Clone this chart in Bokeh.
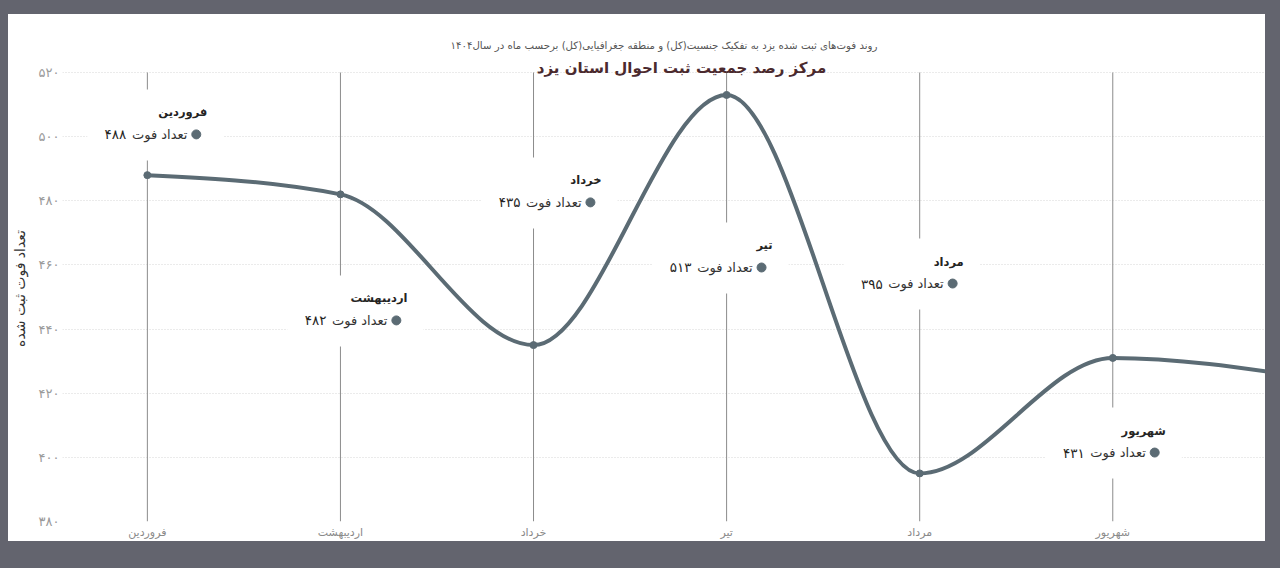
from bokeh.plotting import figure
from bokeh.models import Range1d, FixedTicker, Label, ColumnDataSource, Title
from bokeh.core.properties import value
from bokeh.embed import file_html
from bokeh.resources import INLINE

# ---------------- data ----------------
months = ["فروردین", "اردیبهشت", "خرداد", "تیر", "مرداد", "شهریور", "مهر"]
deaths = [488, 482, 435, 513, 395, 431, 425]
value_labels = ["۴۸۸", "۴۸۲", "۴۳۵", "۵۱۳", "۳۹۵", "۴۳۱"]
y_ticks = [380, 400, 420, 440, 460, 480, 500, 520]
y_tick_labels = ["۳۸۰", "۴۰۰", "۴۲۰", "۴۴۰", "۴۶۰", "۴۸۰", "۵۰۰", "۵۲۰"]
row_text = "تعداد فوت"
subtitle = "روند فوت\u200cهای ثبت شده یزد به تفکیک جنسیت(کل) و منطقه جغرافیایی(کل) برحسب ماه در سال۱۴۰۴"
main_title = "مرکز رصد جمعیت ثبت احوال استان یزد"
y_title = "تعداد فوت ثبت شده"

# ---------------- layout / style constants ----------------
label_row_y = [500.7, 442.7, 479.5, 459.2, 454.2, 401.5]   # data-label row position
label_dx = [49, 56, 57, 35, 33, 42]                        # px offset of label dot
LINE_COLOR = "#5b6b74"
FONT = "DejaVu Sans"
X_START, X_END = -0.4395, 5.791
FRAME_W = 1205
PX_X = (X_END - X_START) / FRAME_W
PX_Y = (y_ticks[-1] - y_ticks[0]) / 449.0
Y_END = y_ticks[-1] + 17 * PX_Y          # frame extends 17px above the top grid line
FRAME_TOP = 41

n = 6
xs = list(range(len(deaths)))

p = figure(width=1257, height=527,
           x_range=Range1d(X_START, X_END), y_range=Range1d(y_ticks[0], Y_END),
           output_backend="svg", toolbar_location=None,
           min_border_left=52, min_border_right=0, min_border_top=FRAME_TOP, min_border_bottom=20)
p.outline_line_color = None
p.background_fill_color = "white"
p.border_fill_color = "white"
p.styles = {"position": "relative", "top": "14px", "left": "8px",
            "box-shadow": "0 0 0 40px #63646e"}

p.title = Title(text=subtitle, align="center", text_font=FONT, text_font_size="10.2px",
                text_font_style="normal", text_color="#555555", standoff=10)

# axes
p.xaxis.ticker = FixedTicker(ticks=list(range(n)))
p.xaxis.major_label_overrides = {i: months[i] for i in range(n)}
p.yaxis.ticker = FixedTicker(ticks=y_ticks)
p.yaxis.major_label_overrides = dict(zip(y_ticks, y_tick_labels))
for ax in (p.xaxis, p.yaxis):
    ax.axis_line_color = None
    ax.major_tick_line_color = None
    ax.minor_tick_line_color = None
    ax.major_tick_out = 0
    ax.major_tick_in = 0
    ax.minor_tick_out = 0
    ax.major_label_text_font = FONT
p.xaxis.major_label_text_font_size = "11px"
p.xaxis.major_label_text_color = "#8a8a8a"
p.xaxis.major_label_standoff = 4
p.yaxis.major_label_text_font_size = "13px"
p.yaxis.major_label_text_color = "#9a9a9a"
p.yaxis.major_label_standoff = 3
p.yaxis.axis_label = y_title
p.yaxis.axis_label_text_font = FONT
p.yaxis.axis_label_text_font_style = "normal"
p.yaxis.axis_label_text_font_size = "14px"
p.yaxis.axis_label_text_color = "#333333"
p.yaxis.axis_label_standoff = 8

p.xgrid.grid_line_color = None
p.ygrid.ticker = FixedTicker(ticks=y_ticks)
p.ygrid.grid_line_color = "#d6d6d6"
p.ygrid.grid_line_dash = "1 2"

# vertical category lines
p.segment(x0=xs[:n], y0=[y_ticks[0]] * n, x1=xs[:n], y1=[y_ticks[-1]] * n,
          line_color="#8c8c8c", line_width=1)

# white label boxes (occlude grid and category lines)
box_x = [i + (label_dx[i] - 41) * PX_X for i in range(n)]
box_y = [label_row_y[i] + 9.5 * PX_Y for i in range(n)]
p.rect(x=box_x, y=box_y, width=136, height=71, width_units="screen", height_units="screen",
       fill_color="white", line_color=None)

# smooth (monotone cubic) line drawn as bezier segments
m = len(deaths)
sec = [deaths[i + 1] - deaths[i] for i in range(m - 1)]
slopes = [0.0] * m
for i in range(1, m - 1):
    s0, s1 = sec[i - 1], sec[i]
    if s0 * s1 <= 0:
        slopes[i] = 0.0
    else:
        pp = (s0 + s1) / 2
        sg = 1 if s0 > 0 else -1
        slopes[i] = 2 * sg * min(abs(s0), abs(s1), 0.5 * abs(pp))
slopes[0] = (3 * sec[0] - slopes[1]) / 2
slopes[-1] = (3 * sec[-1] - slopes[-2]) / 2
bez = ColumnDataSource(dict(
    x0=xs[:-1], y0=deaths[:-1], x1=xs[1:], y1=deaths[1:],
    cx0=[x + 1 / 3 for x in xs[:-1]], cy0=[deaths[i] + slopes[i] / 3 for i in range(m - 1)],
    cx1=[x - 1 / 3 for x in xs[1:]], cy1=[deaths[i + 1] - slopes[i + 1] / 3 for i in range(m - 1)],
))
p.bezier(x0="x0", y0="y0", x1="x1", y1="y1", cx0="cx0", cy0="cy0", cx1="cx1", cy1="cy1",
         source=bez, line_color=LINE_COLOR, line_width=4)
p.scatter(x=xs, y=deaths, size=7, color=LINE_COLOR)

# data labels
dot_x = [i + label_dx[i] * PX_X for i in range(n)]
p.scatter(x=dot_x, y=label_row_y, size=9, color=LINE_COLOR)
lab = ColumnDataSource(dict(
    x=xs[:n], y=label_row_y, month=months[:n], val=value_labels,
    row=[row_text] * n,
    off_title=[d + 11 for d in label_dx], off_row=[d - 9 for d in label_dx],
    off_val=[d - 70 for d in label_dx],
))
p.text(x="x", y="y", text="month", x_offset="off_title", y_offset=-22, source=lab,
       text_font=value(FONT), text_font_size="11.5px", text_font_style="bold",
       text_color="#252423", text_align="right", text_baseline="middle")
p.text(x="x", y="y", text="row", x_offset="off_row", y_offset=0, source=lab,
       text_font=value(FONT), text_font_size="13px",
       text_color="#333333", text_align="right", text_baseline="middle")
p.text(x="x", y="y", text="val", x_offset="off_val", y_offset=0, source=lab,
       text_font=value(FONT), text_font_size="13.5px",
       text_color="#252423", text_align="right", text_baseline="middle")

# main title inside the frame's top strip
p.add_layout(Label(x=X_START + (680 - 60) * PX_X, y=y_ticks[-1] + 5 * PX_Y, text=main_title,
                   text_font=FONT, text_font_size="15px", text_font_style="bold",
                   text_color="#4b2a2e", text_align="center", text_baseline="middle"))

open("out.html", "w").write(file_html(p, INLINE))
